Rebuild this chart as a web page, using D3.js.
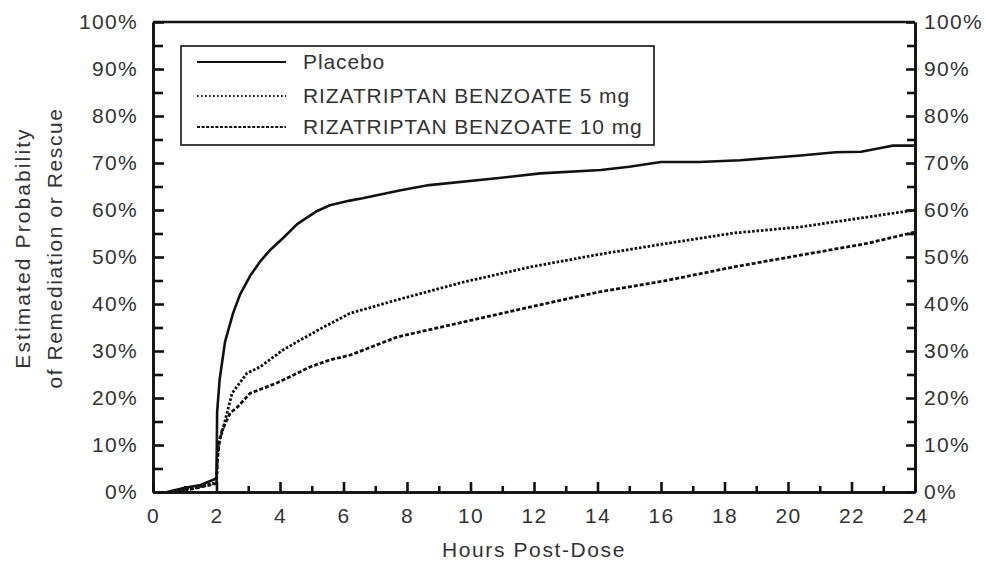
<!DOCTYPE html>
<html>
<head>
<meta charset="utf-8">
<script src="https://cdn.jsdelivr.net/npm/d3@7"></script>
<style>
  body { margin: 0; background: #fff; }
  text { font-family: "Liberation Sans", Arial, sans-serif; fill: #333; }
</style>
</head>
<body>
<svg id="chart" width="986" height="563"></svg>
<script>
// values (hours post-dose, % remedicated)
const placeboHours = [0.45, 1.0, 1.5, 1.9, 2.0, 2.02, 2.1, 2.27, 2.52, 2.74, 3.06, 3.37, 3.69, 4.09, 4.54, 5.17, 5.57, 6.2, 6.6, 7.8, 8.7, 10.9, 12.2, 14.1, 15.0, 16.0, 17.2, 18.5, 20.4, 21.5, 22.3, 23.0, 23.3, 24];
const placeboPct = [0, 0.9, 1.5, 2.6, 3, 17, 24, 32, 38, 42, 46, 49, 51.5, 54, 57, 59.8, 61, 62, 62.5, 64.2, 65.3, 66.8, 67.8, 68.5, 69.2, 70.2, 70.2, 70.6, 71.6, 72.3, 72.4, 73.3, 73.7, 73.7];

const riza5Hours = [0.5, 1.0, 1.5, 2.0, 2.03, 2.08, 2.17, 2.33, 2.49, 2.96, 3.37, 4.09, 4.63, 5.35, 6.2, 7.7, 9.8, 11.9, 14.0, 16.1, 18.3, 20.4, 22.5, 24];
const riza5Pct = [0, 0.5, 1.2, 2, 8, 11, 12.5, 16.8, 21, 25.3, 26.6, 30.2, 32.3, 35, 38, 40.9, 44.7, 47.9, 50.5, 52.8, 55.1, 56.4, 58.5, 60];

const riza10Hours = [0.6, 1.2, 2.0, 2.03, 2.1, 2.17, 2.43, 2.65, 3.06, 3.9, 4.31, 4.94, 5.57, 6.2, 7.7, 9.8, 11.9, 14.0, 16.1, 18.3, 20.4, 22.5, 24];
const riza10Pct = [0, 0.6, 1.8, 7, 11, 13, 16.8, 18, 21, 23.2, 24.5, 26.6, 28.1, 29.1, 33, 36.2, 39.4, 42.5, 44.9, 47.9, 50.4, 52.9, 55.3];

const seriesNames = ['Placebo', 'RIZATRIPTAN BENZOATE 5 mg', 'RIZATRIPTAN BENZOATE 10 mg'];
const xMajorTicks = [0, 2, 4, 6, 8, 10, 12, 14, 16, 18, 20, 22, 24];
const xMinorTicks = [1, 3, 5, 7, 9, 11, 13, 15, 17, 19, 21, 23];
const yMajorTicks = [0, 10, 20, 30, 40, 50, 60, 70, 80, 90, 100];
const yMinorTicks = [5, 15, 25, 35, 45, 55, 65, 75, 85, 95];

const svg = d3.select('#chart');
svg.append('rect').attr('width', 986).attr('height', 563).attr('fill', '#fff');

const x = d3.scaleLinear().domain([0, 24]).range([153, 915]);
const y = d3.scaleLinear().domain([0, 100]).range([492, 22]);

const styles = [
  { width: 2.6, dash: null },
  { width: 2.8, dash: '2.6,1.8' },
  { width: 2.8, dash: '4,2' },
];

// curves
const line = d3.line().x(d => x(d[0])).y(d => y(d[1]));
const series = [
  d3.zip(placeboHours, placeboPct),
  d3.zip(riza5Hours, riza5Pct),
  d3.zip(riza10Hours, riza10Pct),
];
series.forEach((pts, i) => {
  svg.append('path')
    .attr('d', line(pts))
    .attr('fill', 'none')
    .attr('stroke', '#111')
    .attr('stroke-width', styles[i].width)
    .attr('stroke-dasharray', styles[i].dash)
    .attr('stroke-linejoin', 'round');
});

// axes
function styleAxis(g) {
  g.select('.domain').attr('stroke', '#111').attr('stroke-width', 2.6);
  g.selectAll('.tick line').attr('stroke', '#111').attr('stroke-width', 2.6);
  g.selectAll('text').style('font-size', '21px').style('letter-spacing', '1.3px').attr('fill', '#333');
}

svg.append('g').attr('transform', 'translate(0,492)')
  .call(d3.axisBottom(x).tickValues(xMinorTicks).tickSize(-6).tickSizeOuter(0).tickFormat(''))
  .call(styleAxis);
svg.append('g').attr('transform', 'translate(0,492)')
  .call(d3.axisBottom(x).tickValues(xMajorTicks).tickSize(-10).tickSizeOuter(0).tickPadding(16))
  .call(styleAxis);

svg.append('g').attr('transform', 'translate(153,0)')
  .call(d3.axisLeft(y).tickValues(yMinorTicks).tickSize(-10).tickSizeOuter(0).tickFormat(''))
  .call(styleAxis);
svg.append('g').attr('transform', 'translate(153,0)')
  .call(d3.axisLeft(y).tickValues(yMajorTicks).tickSize(-11).tickSizeOuter(0).tickPadding(15).tickFormat(d => d + '%'))
  .call(styleAxis);

svg.append('g').attr('transform', 'translate(915,0)')
  .call(d3.axisRight(y).tickValues(yMinorTicks).tickSize(-8).tickSizeOuter(0).tickFormat(''))
  .call(styleAxis);
svg.append('g').attr('transform', 'translate(915,0)')
  .call(d3.axisRight(y).tickValues(yMajorTicks).tickSize(-9).tickSizeOuter(0).tickPadding(9).tickFormat(d => d + '%'))
  .call(styleAxis);

// top frame line
svg.append('line')
  .attr('x1', x(0)).attr('x2', x(24)).attr('y1', y(100)).attr('y2', y(100))
  .attr('stroke', '#111').attr('stroke-width', 2.6);

// axis titles
svg.append('text')
  .attr('x', (x(0) + x(24)) / 2).attr('y', 557)
  .attr('text-anchor', 'middle')
  .style('font-size', '21px').style('letter-spacing', '1.6px')
  .text('Hours Post-Dose');

const yTitle = svg.append('g').attr('transform', 'translate(0,248) rotate(-90)');
yTitle.append('text').attr('x', 0).attr('y', 30).attr('text-anchor', 'middle')
  .style('font-size', '21px').style('letter-spacing', '2.1px')
  .text('Estimated Probability');
yTitle.append('text').attr('x', 0).attr('y', 62).attr('text-anchor', 'middle')
  .style('font-size', '21px').style('letter-spacing', '1.6px')
  .text('of Remediation or Rescue');

// legend
const legend = svg.append('g');
legend.append('rect')
  .attr('x', 181).attr('y', 46).attr('width', 473).attr('height', 99)
  .attr('fill', '#fff').attr('stroke', '#111').attr('stroke-width', 1.6);
const rowY = [62, 96, 127];
seriesNames.forEach((name, i) => {
  legend.append('line')
    .attr('x1', 197).attr('x2', 286).attr('y1', rowY[i]).attr('y2', rowY[i])
    .attr('stroke', '#111').attr('stroke-width', 1.8)
    .attr('stroke-dasharray', i === 1 ? '1.6,2.4' : i === 2 ? '3,1.6' : null);
  legend.append('text')
    .attr('x', 303).attr('y', rowY[i]).attr('dy', '0.35em')
    .style('font-size', '21px').style('letter-spacing', '0.9px')
    .text(name);
});
</script>
</body>
</html>
